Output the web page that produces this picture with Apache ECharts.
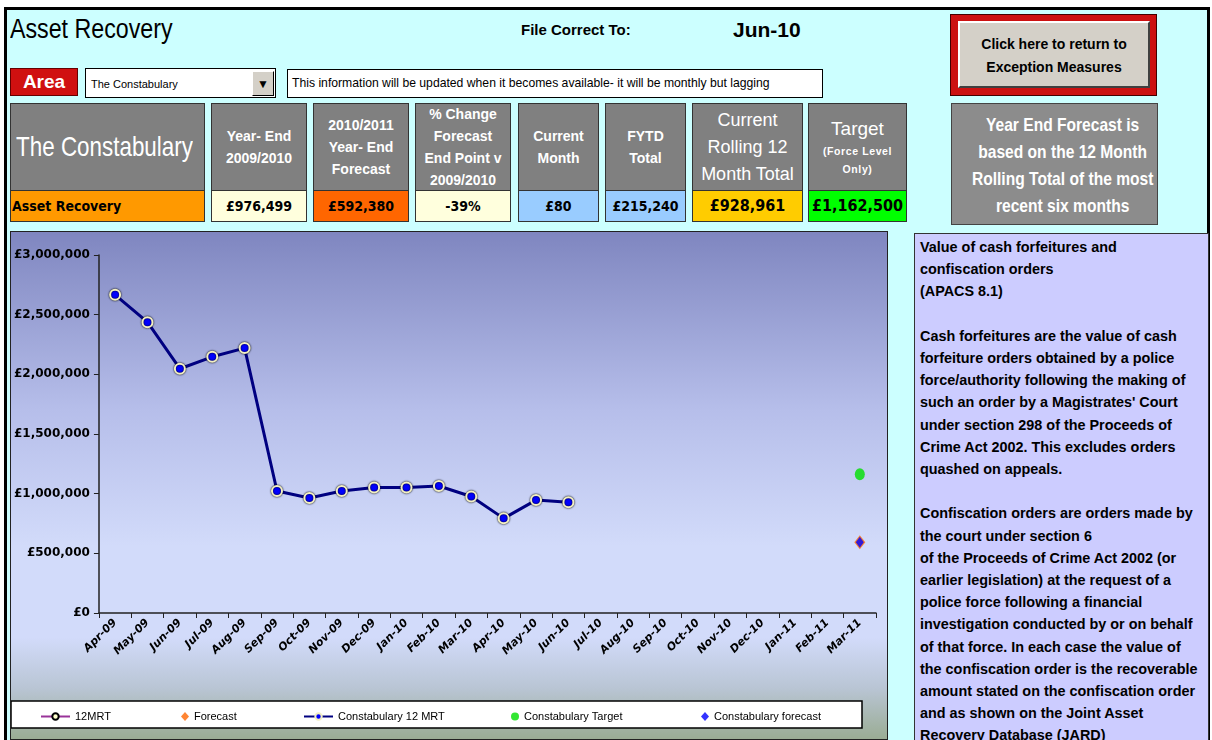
<!DOCTYPE html>
<html>
<head>
<meta charset="utf-8">
<script src="https://cdn.jsdelivr.net/npm/echarts@6/dist/echarts.min.js"></script>
<style>
  body { margin: 0; width: 1212px; height: 740px; overflow: hidden; background: #fff; position: relative;
         font-family: "Liberation Sans", sans-serif; }
  .abs { position: absolute; box-sizing: border-box; }
  .page { left: 4px; top: 7px; width: 1206px; height: 740px; background: #ccffff;
          border-top: 3px solid #000; border-left: 3px solid #000; border-right: 3px solid #000; }
  .hdr { background: #808080; border: 1px solid #333; color: #fff; font-weight: bold; text-align: center;
         display: flex; flex-direction: column; justify-content: center; white-space: nowrap; }
  .val { border: 1px solid #333; font-weight: bold; text-align: center; font-size: 14px; line-height: 30px;
         font-family: "DejaVu Sans Condensed", "Liberation Sans", sans-serif; }
  .narrow { display: inline-block; transform: scaleX(0.82); transform-origin: center; white-space: nowrap; }
  .panel { background: #ccccff; border: 1px solid #333; font-weight: bold; font-size: 14.4px; line-height: 22.2px;
           padding: 2px 0 0 5px; white-space: nowrap; }
</style>
</head>
<body>
<div class="abs page"></div>

<!-- titel regel -->
<div class="abs" style="left:10px;top:14px;font-size:27px;white-space:nowrap;transform:scaleX(0.86);transform-origin:left;">Asset Recovery</div>
<div class="abs" style="left:521px;top:21px;font-size:15px;font-weight:bold;">File Correct To:</div>
<div class="abs" style="left:733px;top:18px;font-size:21px;font-weight:bold;">Jun-10</div>

<!-- area keuze -->
<div class="abs" style="left:10px;top:68px;width:68px;height:28px;background:#d01010;border:1px solid #600;color:#fff;font-weight:bold;font-size:19px;text-align:center;line-height:26px;">Area</div>
<div class="abs" style="left:85px;top:68px;width:191px;height:30px;background:#fff;border:1px solid #000;font-size:11px;line-height:30px;padding-left:5px;">The Constabulary</div>
<div class="abs" style="left:252px;top:71px;width:22px;height:25px;background:#d4d0c8;border:1px solid #000;border-top-color:#fff;border-left-color:#fff;font-size:12px;text-align:center;line-height:24px;">&#9660;</div>
<div class="abs" style="left:287px;top:69px;width:536px;height:29px;background:#fff;border:1px solid #000;font-size:12.2px;line-height:27px;padding-left:4px;white-space:nowrap;">This information will be updated when it becomes available- it will be monthly but lagging</div>

<!-- kopvakken -->
<div class="abs hdr" style="left:10px;top:103px;width:195px;height:88px;font-weight:normal;font-size:28px;">
  <span style="display:block;margin:0 -40px 0 -46px;transform:scaleX(0.8);transform-origin:center;">The Constabulary</span>
</div>
<div class="abs val" style="left:10px;top:190px;width:195px;height:32px;background:#ff9900;text-align:left;padding-left:1px;">Asset Recovery</div>

<div class="abs hdr" style="left:211px;top:103px;width:96px;height:88px;font-size:14px;line-height:22px;">Year- End<br>2009/2010</div>
<div class="abs val" style="left:211px;top:190px;width:96px;height:32px;background:#ffffdd;">£976,499</div>

<div class="abs hdr" style="left:313px;top:103px;width:96px;height:88px;font-size:14px;line-height:22px;">2010/2011<br>Year- End<br>Forecast</div>
<div class="abs val" style="left:313px;top:190px;width:96px;height:32px;background:#ff6600;">£592,380</div>

<div class="abs hdr" style="left:415px;top:103px;width:96px;height:88px;font-size:14px;line-height:22px;">% Change<br>Forecast<br>End Point v<br>2009/2010</div>
<div class="abs val" style="left:415px;top:190px;width:96px;height:32px;background:#ffffdd;">-39%</div>

<div class="abs hdr" style="left:518px;top:103px;width:81px;height:88px;font-size:14px;line-height:22px;">Current<br>Month</div>
<div class="abs val" style="left:518px;top:190px;width:81px;height:32px;background:#99ccff;">£80</div>

<div class="abs hdr" style="left:605px;top:103px;width:81px;height:88px;font-size:14px;line-height:22px;">FYTD<br>Total</div>
<div class="abs val" style="left:605px;top:190px;width:81px;height:32px;background:#99ccff;">£215,240</div>

<div class="abs hdr" style="left:692px;top:103px;width:111px;height:88px;font-size:18px;line-height:27px;font-weight:normal;">Current<br>Rolling 12<br>Month Total</div>
<div class="abs val" style="left:692px;top:190px;width:111px;height:32px;background:#ffcc00;font-size:16px;">£928,961</div>

<div class="abs hdr" style="left:808px;top:103px;width:99px;height:88px;line-height:18px;">
  <div style="font-size:19px;font-weight:normal;line-height:26px;">Target</div>
  <div style="font-size:10.5px;letter-spacing:0.6px;">(Force Level<br>Only)</div>
</div>
<div class="abs val" style="left:808px;top:190px;width:99px;height:32px;background:#00ff00;font-size:16px;">£1,162,500</div>

<!-- knop en uitleg rechts -->
<div class="abs" style="left:950px;top:14px;width:207px;height:82px;background:#cc1111;border:1px solid #400;"></div>
<div class="abs" style="left:958px;top:21px;width:192px;height:67px;background:#d4d0c8;border:2px solid #404040;border-top-color:#fff;border-left-color:#fff;font-weight:bold;font-size:14px;line-height:23px;text-align:center;padding-top:10px;">Click here to return to<br>Exception Measures</div>
<div class="abs" style="left:951px;top:103px;width:207px;height:122px;background:#8c8c8c;border:1px solid #444;color:#fff;font-size:19px;font-weight:bold;line-height:27px;text-align:center;padding-top:7px;"><span class="narrow">Year End Forecast is<br>based on the 12 Month<br>Rolling Total of the most<br>recent six months</span></div>

<div class="abs panel" style="left:914px;top:233px;width:295px;height:520px;">Value of cash forfeitures and<br>confiscation orders<br>(APACS 8.1)<br><br>Cash forfeitures are the value of cash<br>forfeiture orders obtained by a police<br>force/authority following the making of<br>such an order by a Magistrates' Court<br>under section 298 of the Proceeds of<br>Crime Act 2002. This excludes orders<br>quashed on appeals.<br><br>Confiscation orders are orders made by<br>the court under section 6<br>of the Proceeds of Crime Act 2002 (or<br>earlier legislation) at the request of a<br>police force following a financial<br>investigation conducted by or on behalf<br>of that force. In each case the value of<br>the confiscation order is the recoverable<br>amount stated on the confiscation order<br>and as shown on the Joint Asset<br>Recovery Database (JARD)</div>

<div class="abs" style="left:10px;top:231px;width:878px;height:509px;border:1px solid #222;">
  <div id="chart" style="width:876px;height:507px;"></div>
</div>

<script>
// maanden op de x-as
var months = ['Apr-09','May-09','Jun-09','Jul-09','Aug-09','Sep-09','Oct-09','Nov-09','Dec-09','Jan-10','Feb-10','Mar-10',
              'Apr-10','May-10','Jun-10','Jul-10','Aug-10','Sep-10','Oct-10','Nov-10','Dec-10','Jan-11','Feb-11','Mar-11'];
// 12 maands rollend totaal
var constab12MRT = [2666000, 2437000, 2047000, 2147000, 2220000, 1022000, 963000, 1022000, 1051000, 1051000, 1064000, 976499,
                    793000, 946000, 928961];
var area12MRT = [];
var forecast = [['Mar-11', 592380]];
var constabTarget = [['Mar-11', 1162500]];
var constabForecast = [['Mar-11', 592380]];

var legendFont = { fontFamily: 'Liberation Sans', fontSize: 11, color: '#000' };
function oneLegend(name, left, w, h) {
  return { data: [name], left: left, top: 474, itemWidth: w, itemHeight: h, itemGap: 0, textStyle: legendFont, selectedMode: false };
}

var myChart = echarts.init(document.getElementById('chart'));
var option = {
  animation: false,
  backgroundColor: new echarts.graphic.LinearGradient(0, 0, 0, 1, [
    { offset: 0, color: '#7f86c0' },
    { offset: 0.35, color: '#b6beea' },
    { offset: 0.62, color: '#d2dbfa' },
    { offset: 0.8, color: '#d2dbfa' },
    { offset: 0.9, color: '#b9c5d4' },
    { offset: 1, color: '#9aac94' }
  ]),
  graphic: [{
    type: 'rect', z: 0, shape: { x: 0, y: 469, width: 851, height: 27 },
    style: { fill: '#fff', stroke: '#000', lineWidth: 1.5 }
  }],
  legend: [
    oneLegend('12MRT', 24, 29, 8),
    oneLegend('Forecast', 165, 8, 9),
    oneLegend('Constabulary 12 MRT', 287, 29, 8),
    oneLegend('Constabulary Target', 495, 8, 8),
    oneLegend('Constabulary forecast', 685, 8, 9)
  ],
  grid: { left: 87, right: 11, top: 23, bottom: 126 },
  xAxis: {
    type: 'category',
    data: months,
    boundaryGap: true,
    axisLine: { lineStyle: { color: '#222', width: 1.5 } },
    axisTick: { show: true, length: 5, lineStyle: { color: '#222' } },
    axisLabel: { rotate: 45, interval: 0, fontFamily: 'DejaVu Sans', fontWeight: 'bold', fontStyle: 'italic', fontSize: 11, color: '#000', margin: 8 },
    splitLine: { show: false }
  },
  yAxis: {
    type: 'value',
    min: 0, max: 3000000, interval: 500000,
    axisLine: { show: true, lineStyle: { color: '#222', width: 1.5 } },
    axisTick: { show: true, length: 5, lineStyle: { color: '#222' } },
    axisLabel: {
      fontFamily: 'DejaVu Sans', fontWeight: 'bold', fontSize: 12, color: '#000', margin: 9,
      formatter: function (v) { return '£' + v.toLocaleString('en-GB'); }
    },
    splitLine: { show: false }
  },
  series: [
    {
      name: '12MRT', type: 'line', data: area12MRT,
      lineStyle: { color: '#993399', width: 3 },
      symbol: 'circle', symbolSize: 6,
      itemStyle: { color: '#ffffcc', borderColor: '#000', borderWidth: 1 }
    },
    {
      name: 'Forecast', type: 'scatter', data: forecast, z: 3,
      symbol: 'diamond', symbolSize: [11, 14],
      itemStyle: { color: '#ff6600' }
    },
    {
      name: 'Constabulary 12 MRT', type: 'line', data: constab12MRT, z: 4,
      lineStyle: { color: '#000080', width: 3 },
      symbol: 'circle', symbolSize: 10,
      itemStyle: { color: '#0000ff', borderColor: '#f2efc4', borderWidth: 2, shadowColor: '#000', shadowBlur: 2 }
    },
    {
      name: 'Constabulary Target', type: 'scatter', data: constabTarget,
      symbol: 'circle', symbolSize: [10, 12],
      itemStyle: { color: '#00e000' }
    },
    {
      name: 'Constabulary forecast', type: 'scatter', data: constabForecast, z: 5,
      symbol: 'diamond', symbolSize: [8, 11],
      itemStyle: { color: '#0000ff' }
    }
  ]
};
myChart.setOption(option);
</script>
</body>
</html>
